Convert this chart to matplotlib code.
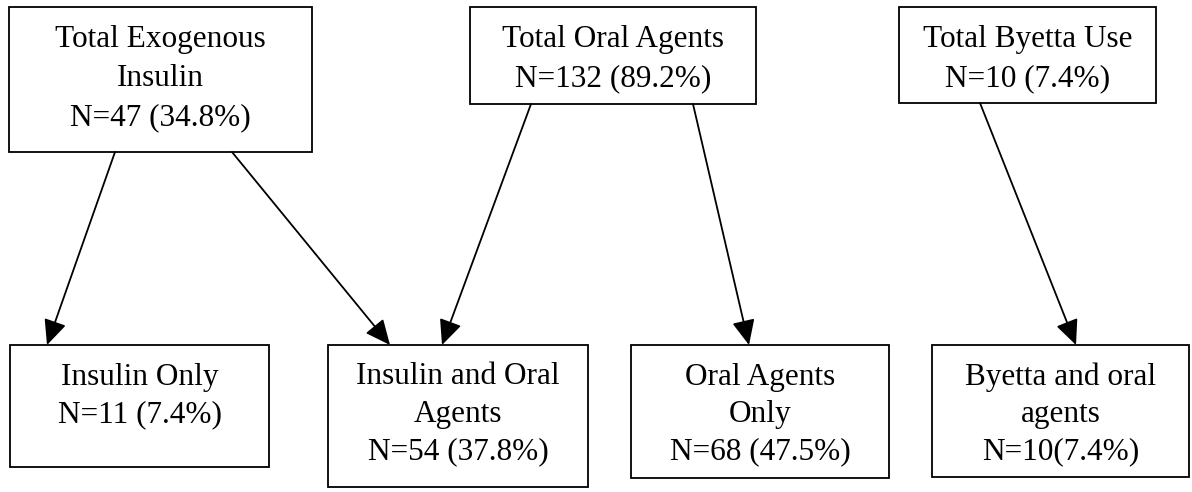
import matplotlib
matplotlib.use("Agg")
import matplotlib.pyplot as plt
from matplotlib.patches import Rectangle, FancyArrowPatch

# data: group names, counts and percentages
top_names = [["Total Exogenous", "Insulin"], ["Total Oral Agents"], ["Total Byetta Use"]]
top_counts = ["N=47 (34.8%)", "N=132 (89.2%)", "N=10 (7.4%)"]
bottom_names = [["Insulin Only"], ["Insulin and Oral", "Agents"], ["Oral Agents", "Only"], ["Byetta and oral", "agents"]]
bottom_counts = ["N=11 (7.4%)", "N=54 (37.8%)", "N=68 (47.5%)", "N=10(7.4%)"]

# layout (pixels): x0, x1, y0, y1
top_boxes = [(9, 312, 7, 152), (470, 756, 7, 104), (899, 1156, 7, 103)]
bottom_boxes = [(10, 269, 345, 467), (328, 588, 345, 487), (631, 889, 345, 478), (932, 1189, 345, 477)]
# arrows: (top box, start x, bottom box, end x)
links = [(0, 115, 0, 47), (0, 232, 1, 390), (1, 531, 1, 442), (1, 693, 2, 749), (2, 980, 3, 1076)]

plt.rcParams['font.family'] = ['Liberation Serif', 'DejaVu Serif']
fig = plt.figure(figsize=(11.92, 4.92), dpi=100)
ax = fig.add_axes([0, 0, 1, 1])
ax.set_xlim(0, 1192)
ax.set_ylim(492, 0)
ax.axis("off")

def draw_box(box, lines, step):
    x0, x1, y0, y1 = box
    ax.add_patch(Rectangle((x0, y0), x1 - x0, y1 - y0, fill=False, ec="black", lw=1.3))
    cx = (x0 + x1) / 2
    for i, s in enumerate(lines):
        ax.text(cx, y0 + 39.5 + i * step, s, ha="center", va="baseline", fontsize=22.5)

for box, names, n in zip(top_boxes, top_names, top_counts):
    draw_box(box, names + [n], 39.5)
for box, names, n in zip(bottom_boxes, bottom_names, bottom_counts):
    draw_box(box, names + [n], 37.5)

for ti, sx, bi, ex in links:
    sy = top_boxes[ti][3]
    ey = bottom_boxes[bi][2]
    arr = FancyArrowPatch((sx, sy), (ex, ey), arrowstyle="-|>,head_length=11,head_width=5",
                          color="black", lw=1.3, shrinkA=0, shrinkB=0, mutation_scale=1.4)
    ax.add_patch(arr)

fig.savefig("out.png", dpi=100, facecolor="white")
